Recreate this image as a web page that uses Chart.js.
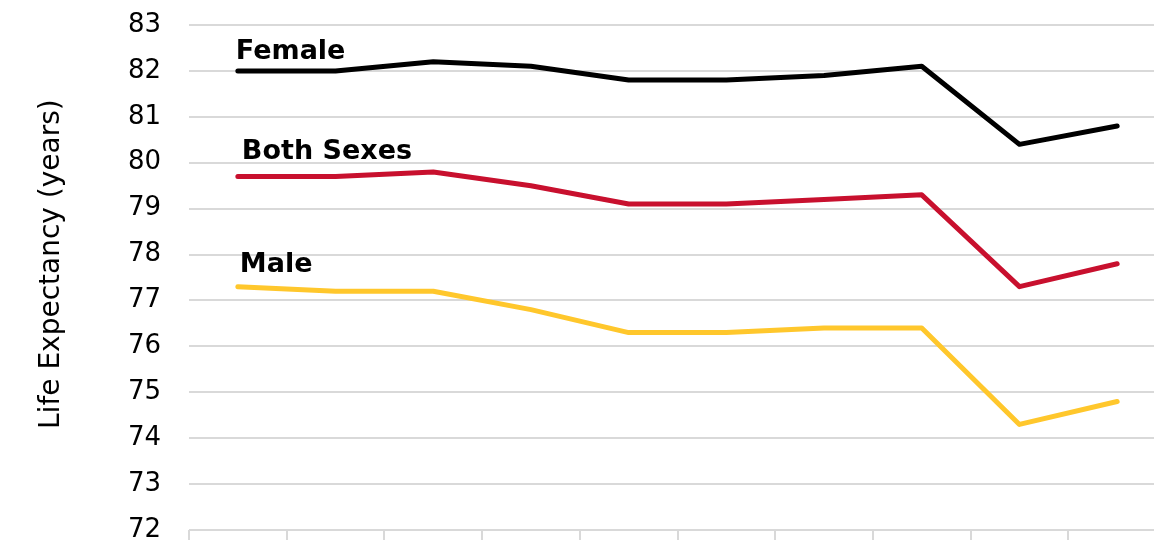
<!DOCTYPE html>
<html>
<head>
<meta charset="utf-8">
<script src="https://cdn.jsdelivr.net/npm/chart.js@4"></script>
<style>
  html, body { margin: 0; padding: 0; overflow: hidden; background: #fff; }
  #wrap { width: 1180px; height: 580px; }
</style>
</head>
<body>
<div id="wrap"><canvas id="lifeChart" width="1180" height="580"></canvas></div>
<script>
// Chart values
const years = ['2012', '2013', '2014', '2015', '2016', '2017', '2018', '2019', '2020', '2021'];
const female = [82.0, 82.0, 82.2, 82.1, 81.8, 81.8, 81.9, 82.1, 80.4, 80.8];
const bothSexes = [79.7, 79.7, 79.8, 79.5, 79.1, 79.1, 79.2, 79.3, 77.3, 77.8];
const male = [77.3, 77.2, 77.2, 76.8, 76.3, 76.3, 76.4, 76.4, 74.3, 74.8];
const yTicks = [72, 73, 74, 75, 76, 77, 78, 79, 80, 81, 82, 83];

const FONT = "'DejaVu Sans', sans-serif";

// Series names written just above each line's first point
const lineLabels = {
    id: 'lineLabels',
    afterDatasetsDraw(chart) {
        const ctx = chart.ctx;
        ctx.save();
        ctx.font = `bold 27px ${FONT}`;
        ctx.fillStyle = '#000';
        ctx.textBaseline = 'alphabetic';
        chart.data.datasets.forEach((ds, i) => {
            const pt = chart.getDatasetMeta(i).data[0];
            ctx.fillText(ds.label, pt.x + ds.labelDx, pt.y + ds.labelDy);
        });
        ctx.restore();
    }
};

const ctx = document.getElementById('lifeChart').getContext('2d');
new Chart(ctx, {
    type: 'line',
    data: {
        labels: years,
        datasets: [
            { label: 'Female', data: female, borderColor: '#000000', labelDx: -2, labelDy: -12 },
            { label: 'Both Sexes', data: bothSexes, borderColor: '#C8102E', labelDx: 4, labelDy: -18 },
            { label: 'Male', data: male, borderColor: '#FFC72C', labelDx: 2, labelDy: -15 }
        ].map(d => Object.assign(d, {
            borderWidth: 5,
            pointRadius: 0,
            tension: 0,
            fill: false,
            borderCapStyle: 'round',
            borderJoinStyle: 'round'
        }))
    },
    options: {
        responsive: false,
        animation: false,
        layout: { padding: { top: 25, right: 14, left: 0, bottom: 0 } },
        plugins: { legend: { display: false }, tooltip: { enabled: false } },
        scales: {
            x: {
                offset: true,
                grid: {
                    offset: true,
                    drawOnChartArea: false,
                    drawTicks: true,
                    tickLength: 12,
                    color: '#d9d9d9',
                    lineWidth: 2
                },
                border: { display: false },
                ticks: { display: false },
                afterFit(scale) { scale.height = 50; }
            },
            y: {
                min: 72,
                max: 83,
                afterBuildTicks(scale) { scale.ticks = yTicks.map(v => ({ value: v })); },
                grid: { color: '#d9d9d9', lineWidth: 2, drawTicks: false },
                border: { display: false },
                ticks: {
                    color: '#000',
                    font: { family: FONT, size: 26 },
                    padding: 28
                },
                title: {
                    display: true,
                    text: '   Life Expectancy (years)',
                    color: '#000',
                    font: { family: FONT, size: 28 },
                    padding: { top: 35, bottom: 0 }
                },
                afterFit(scale) {
                    scale.width = 189;
                    scale.paddingTop = 0;
                    scale.paddingBottom = 0;
                }
            }
        }
    },
    plugins: [lineLabels]
});
</script>
</body>
</html>
